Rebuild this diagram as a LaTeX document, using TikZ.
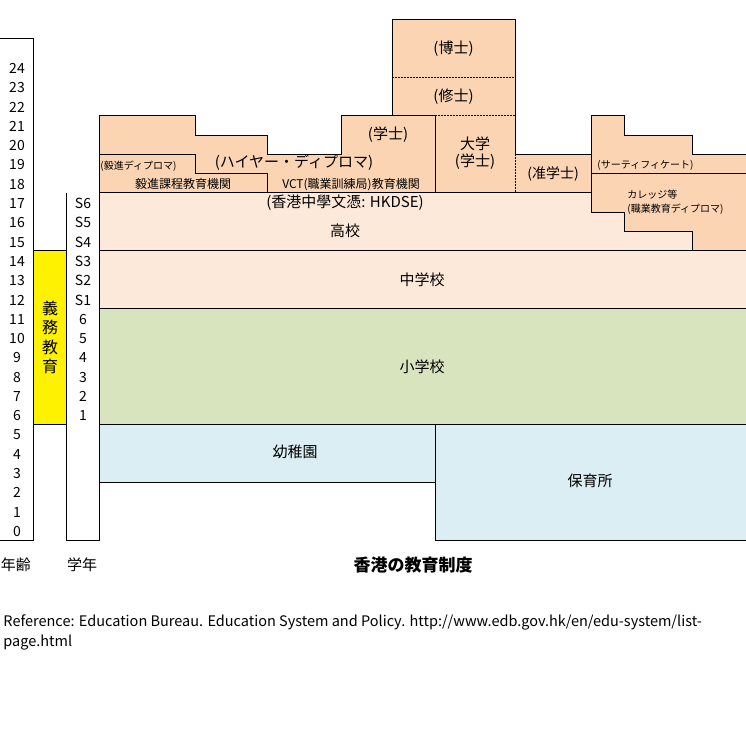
\documentclass[tikz,border=0pt]{standalone}
\usepackage{fontspec}
\setmainfont{Noto Sans CJK JP}
\usetikzlibrary{positioning}
\definecolor{highpeach}{HTML}{FBD4B4}
\definecolor{secpeach}{HTML}{FDE9D9}
\definecolor{prigreen}{HTML}{D7E4BD}
\definecolor{preblue}{HTML}{DAEEF3}

\begin{document}
\begin{tikzpicture}[
    x=1pt, y=19.28pt,
    line width=0.9pt,
    lbl/.style={inner sep=0pt, font=\fontsize{15}{17}\selectfont, align=center},
    midlbl/.style={inner sep=0pt, font=\fontsize{12}{14}\selectfont},
    smalllbl/.style={inner sep=0pt, font=\fontsize{10}{13}\selectfont},
    num/.style={inner sep=0pt, font=\fontsize{14}{14}\selectfont},
    dotline/.style={dash pattern=on 1.5pt off 1.5pt}
  ]
    \useasboundingbox (0,-10.633) rectangle (746,28.008);
    \fill[highpeach] (99,18) -- (99,22) -- (195,22) -- (195,21) -- (267,21) -- (267,20)
      -- (341,20) -- (341,22) -- (392,22) -- (392,27) -- (515,27) -- (515,20) -- (591,20)
      -- (591,22) -- (624,22) -- (624,21) -- (692,21) -- (692,20) -- (746,20) -- (746,15)
      -- (692,15) -- (692,16) -- (624,16) -- (624,17) -- (591,17) -- (591,18) -- cycle;
    \draw (99,18) -- (99,22) -- (195,22) -- (195,21) -- (267,21) -- (267,20)
      -- (341,20) -- (341,22) -- (392,22) -- (392,27) -- (515,27) -- (515,20) -- (591,20)
      -- (591,22) -- (624,22) -- (624,21) -- (692,21) -- (692,20) -- (746,20) -- (746,15);
    \draw (392,22) -- (435,22) -- (435,18);
    \draw (591,20) -- (591,18);
    \draw (591,19) -- (746,19);
    \draw (99,20) -- (195,20) -- (195,19) -- (267,19) -- (267,18);
    \draw[dotline] (392,24) -- (515,24);
    \draw[dotline] (435,22) -- (515,22);
    \draw[dotline] (515,20) -- (515,18);
    \filldraw[fill=secpeach] (99,15) -- (99,18) -- (591,18) -- (591,17) -- (624,17)
      -- (624,16) -- (692,16) -- (692,15) -- cycle;
    \filldraw[fill=secpeach] (99,12) rectangle (746,15);
    \filldraw[fill=prigreen] (99,6) rectangle (746,12);
    \filldraw[fill=preblue] (99,3) rectangle (435,6);
    \filldraw[fill=preblue] (435,0) rectangle (746,6);
    \filldraw[fill=yellow] (33.3,6) rectangle (66.7,15);
    \draw (0,26) -- (33.3,26) -- (33.3,0) -- (0,0);
    \draw (66.7,18) -- (66.7,0) -- (99,0) -- (99,3);

    \node[lbl] (phd) at (453.5,25.5) {(博士)};
    \node[lbl] (master) at (453.5,23) {(修士)};
    \node[lbl] (bachelor) at (388,21) {(学士)};
    \node[lbl] (univ) at (475,20.05) {大学\\(学士)};
    \node[font=\fontsize{14}{14}\selectfont, inner sep=0pt] (assoc) at (553,19) {(准学士)};
    \node[smalllbl, anchor=west] (yjdip) at (100,19.4) {(毅進ディプロマ)};
    \node[midlbl] (yjinst) at (183,18.45) {毅進課程教育機関};
    \node[lbl] (hidip) at (294,19.55) {(ハイヤー・ディプロマ)};
    \node[midlbl] (vtc) at (351,18.45) {VCT(職業訓練局)教育機関};
    \node[smalllbl, anchor=west] (cert) at (597,19.45) {(サーティフィケート)};
    \node[smalllbl, anchor=west] (college) at (627,17.89) {カレッジ等};
    \node[smalllbl, below=3pt of college.south west, anchor=north west] (voc)
      {(職業教育ディプロマ)};
    \node[lbl] (hkdse) at (345,17.48) {(香港中學文憑: HKDSE)};
    \node[lbl] (high) at (345,16.03) {高校};
    \node[lbl] (junior) at (422,13.5) {中学校};
    \node[lbl] (primary) at (422,9) {小学校};
    \node[lbl] (kinder) at (295,4.56) {幼稚園};
    \node[lbl] (nursery) at (590,3.06) {保育所};
    \node[inner sep=0pt, font=\fontsize{16}{19.3}\selectfont, align=center] (compulsory)
      at (50,10.5) {義\\務\\教\\育};
    \foreach \a in {0,...,24}
      \node[num] (age\a) at (17,\a+0.45) {\a};
    \foreach \g [count=\i from 6] in {1,2,3,4,5,6,S1,S2,S3,S4,S5,S6}
      \node[num] (grade\i) at (83,\i+0.45) {\g};
    \node[lbl] (agelbl) at (16,-1.3) {年齢};
    \node[lbl] (gradelbl) at (82,-1.3) {学年};
    \node[lbl, font=\fontsize{17}{17}\selectfont\bfseries] (title) at (413,-1.3) {香港の教育制度};
    \node[inner sep=0pt, anchor=north west, align=left, font=\fontsize{14.5}{20}\selectfont]
      (source) at (3,-3.84)
      {Reference: Education Bureau. Education System and Policy. http://www.edb.gov.hk/en/edu-system/list-\\page.html};
  \end{tikzpicture}
\end{document}
